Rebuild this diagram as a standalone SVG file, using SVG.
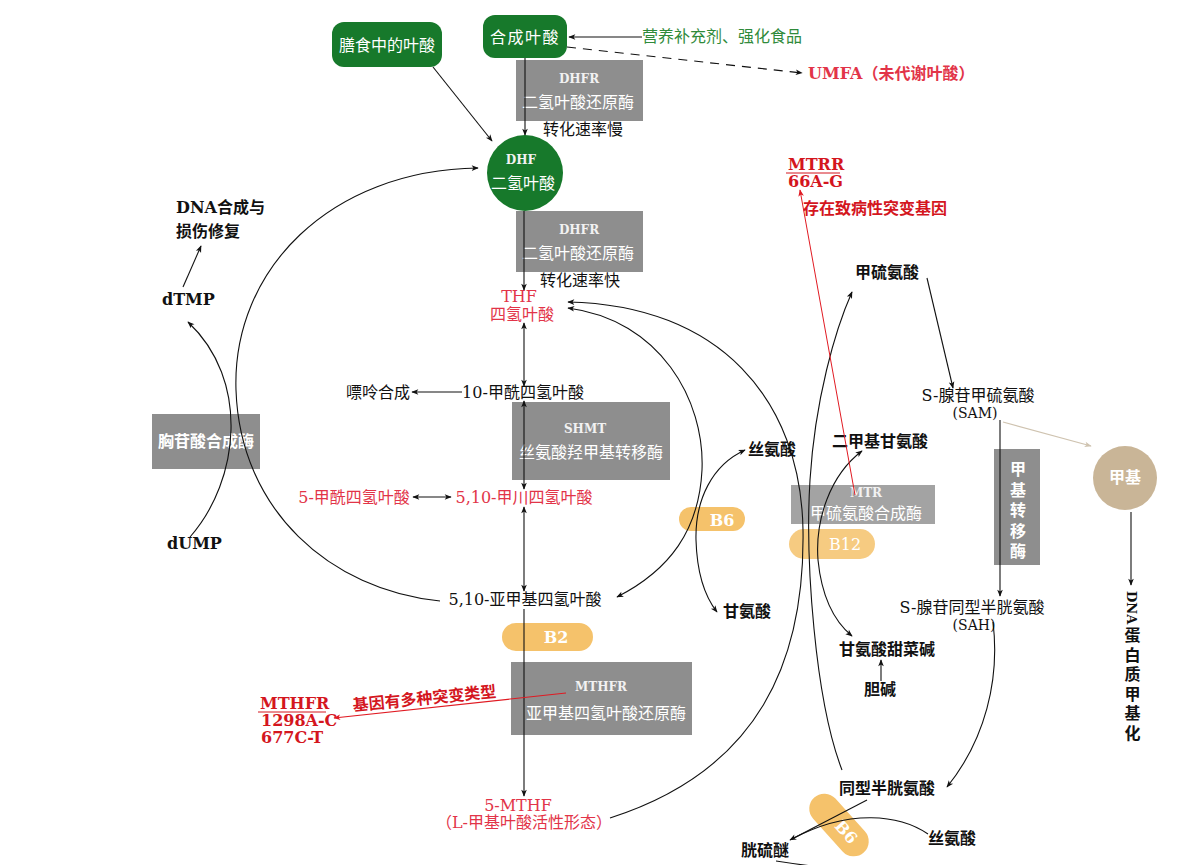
<svg xmlns="http://www.w3.org/2000/svg" width="1200" height="865" viewBox="0 0 1200 865">
<defs>
<marker id="a" viewBox="0 0 10 10" refX="9" refY="5" markerWidth="9" markerHeight="7" markerUnits="userSpaceOnUse" orient="auto-start-reverse"><path d="M0,1 L10,5 L0,9 L2.5,5 Z" fill="#111"/></marker>
<marker id="ar" viewBox="0 0 10 10" refX="9" refY="5" markerWidth="10" markerHeight="7" markerUnits="userSpaceOnUse" orient="auto"><path d="M0,1 L10,5 L0,9 L2.5,5 Z" fill="#e01a22"/></marker>
<marker id="at" viewBox="0 0 10 10" refX="9" refY="5" markerWidth="9" markerHeight="7" markerUnits="userSpaceOnUse" orient="auto"><path d="M0,1 L10,5 L0,9 L2.5,5 Z" fill="#cfc3b0"/></marker>
</defs>
<style>
.s{font-family:"DejaVu Serif","Noto Sans CJK SC",serif;font-size:16px;fill:#111}
.b{font-weight:bold}
.r{fill:#e23448}
.dr{fill:#d4161e;font-weight:bold}
.w{fill:#fff}
.ss{font-family:"Noto Sans CJK SC","Noto Sans",sans-serif;font-size:16px}
.en{font-family:"DejaVu Serif",serif;font-size:12px;font-weight:bold;fill:#f2f2f2}
.box{fill:#8e8e8e}
.grn{fill:#17792b}
.cap{fill:#f5c26b}
.c{fill:none;stroke:#111;stroke-width:1.1}
.m{text-anchor:middle}
.v{writing-mode:vertical-rl}
</style>
<rect width="1200" height="865" fill="#fff"/>

<g id="n-diet"><rect class="grn" x="332" y="22" width="110" height="45" rx="12"/><text class="ss w m" x="387" y="51">膳食中的叶酸</text></g>
<g id="n-synth"><rect class="grn" x="483" y="15" width="84" height="43" rx="12"/><text class="ss w m" x="525" y="43" letter-spacing="1.5">合成叶酸</text></g>
<g id="n-supp"><text class="ss" x="642" y="42" fill="#2f8a3a">营养补充剂、强化食品</text></g>
<g id="n-umfa"><text class="s r b" x="808" y="79" font-size="15">UMFA（未代谢叶酸）</text></g>
<g id="n-dhfr1"><rect class="box" x="516" y="60" width="127" height="61"/><text class="en m" x="579" y="83">DHFR</text><text class="ss w m" x="578" y="108" fill="#f0f0f0">二氢叶酸还原酶</text></g>
<g id="n-slow"><text class="ss m" x="583" y="135" fill="#111">转化速率慢</text></g>
<g id="n-dhf"><circle class="grn" cx="525" cy="173" r="38"/><text class="en m" x="521" y="164" fill="#fff">DHF</text><text class="ss w m" x="523" y="189">二氢叶酸</text></g>
<g id="n-dhfr2"><rect class="box" x="516" y="211" width="127" height="61"/><text class="en m" x="579" y="234">DHFR</text><text class="ss w m" x="578" y="259" fill="#f0f0f0">二氢叶酸还原酶</text></g>
<g id="n-fast"><text class="ss m" x="580" y="286" fill="#111">转化速率快</text></g>
<g id="n-thf"><text class="s r m" font-size="15"><tspan x="519" y="302">THF</tspan><tspan x="522" y="320" font-size="16">四氢叶酸</tspan></text></g>
<g id="n-10f"><text class="s m" x="523" y="398">10-甲酰四氢叶酸</text></g>
<g id="n-pur"><text class="s m" x="378" y="398">嘌呤合成</text></g>
<g id="n-shmt"><rect class="box" x="512" y="402" width="158" height="78"/><text class="en m" x="585" y="433">SHMT</text><text class="ss w m" x="591" y="458" fill="#f0f0f0">丝氨酸羟甲基转移酶</text></g>
<g id="n-5f"><text class="s r m" x="354" y="503">5-甲酰四氢叶酸</text></g>
<g id="n-510ch"><text class="s r m" x="524" y="503">5,10-甲川四氢叶酸</text></g>
<g id="n-510m"><text class="s m" x="525" y="605">5,10-亚甲基四氢叶酸</text></g>
<g id="n-b2"><rect class="cap" x="502" y="623" width="91" height="28" rx="14"/><text class="s w b m" x="556" y="643" font-size="16">B2</text></g>
<g id="n-mthfr"><rect class="box" x="511" y="662" width="181" height="73"/><text class="en m" x="601" y="691">MTHFR</text><text class="ss w m" x="606" y="719" fill="#f0f0f0">亚甲基四氢叶酸还原酶</text></g>
<g id="n-5mthf"><text class="s r m" font-size="15"><tspan x="518" y="811">5-MTHF</tspan><tspan x="524" y="828" font-size="16">（L-甲基叶酸活性形态）</tspan></text></g>
<g id="n-mthfrgene"><text class="s dr" font-size="13.5"><tspan x="260" y="709">MTHFR</tspan><tspan x="261" y="726">1298A-C</tspan><tspan x="261" y="743">677C-T</tspan></text><line x1="258" y1="712" x2="326" y2="712" stroke="#d4161e" stroke-width="1"/></g>
<g id="n-mthfrnote"><text class="s dr m" transform="translate(425,704) rotate(-5.6)" font-size="14">基因有多种突变类型</text></g>
<g id="n-ts"><rect class="box" x="152" y="414" width="108" height="55"/><text class="ss w m b" x="206" y="447">胸苷酸合成酶</text></g>
<g id="n-dtmp"><text class="s b" x="162" y="305" font-size="15">dTMP</text></g>
<g id="n-dna"><text class="s b" font-size="15"><tspan x="176" y="213">DNA合成与</tspan><tspan x="176" y="237">损伤修复</tspan></text></g>
<g id="n-dump"><text class="s b" x="167" y="549" font-size="15">dUMP</text></g>

<g id="n-mtrr"><text class="s dr" font-size="14.5"><tspan x="788" y="170">MTRR</tspan><tspan x="788" y="187">66A-G</tspan></text><line x1="786" y1="173" x2="840" y2="173" stroke="#d4161e" stroke-width="1"/></g>
<g id="n-mtrrnote"><text class="s dr" x="803" y="214">存在致病性突变基因</text></g>
<g id="n-met"><text class="s b" x="855" y="278">甲硫氨酸</text></g>
<g id="n-sam"><text class="s m" font-size="15"><tspan x="978" y="401">S-腺苷甲硫氨酸</tspan><tspan x="975" y="418" font-size="14">(SAM)</tspan></text></g>
<g id="n-mt"><rect class="box" x="994" y="449" width="46" height="116"/><text class="ss w b v" x="1018" y="461" font-size="14" letter-spacing="4.5">甲基转移酶</text></g>
<g id="n-methyl"><circle cx="1125" cy="478" r="32" fill="#c9b597"/><text class="ss w m b" x="1125" y="483" font-size="15">甲基</text></g>
<g id="n-dnam"><text class="s b v" x="1131" y="591" font-size="14"><tspan font-size="13">DNA</tspan><tspan letter-spacing="3.5" dy="3">蛋白质甲基化</tspan></text></g>
<g id="n-sah"><text class="s m" font-size="15"><tspan x="972" y="613">S-腺苷同型半胱氨酸</tspan><tspan x="974" y="630" font-size="14">(SAH)</tspan></text></g>
<g id="n-dmg"><text class="s b" x="832" y="447">二甲基甘氨酸</text></g>
<g id="n-mtr"><rect x="791" y="485" width="144" height="39" fill="#a3a3a3"/><text class="en m" x="866" y="497" font-size="10">MTR</text><text class="ss w m" x="866" y="519" font-size="14" fill="#f0f0f0">甲硫氨酸合成酶</text></g>
<g id="n-b12"><rect class="cap" x="789" y="529" width="86" height="30" rx="15" opacity="0.85"/><text class="s w m" x="845" y="550" font-size="13">B12</text></g>
<g id="n-ser1"><text class="s b" x="748" y="455">丝氨酸</text></g>
<g id="n-b6"><rect class="cap" x="679" y="507" width="66" height="24" rx="12"/><text class="s w b m" x="722" y="526" font-size="16">B6</text></g>
<g id="n-gly"><text class="s b" x="723" y="617">甘氨酸</text></g>
<g id="n-bet"><text class="s b" x="839" y="655">甘氨酸甜菜碱</text></g>
<g id="n-cho"><text class="s b" x="864" y="695">胆碱</text></g>
<g id="n-hcy"><text class="s b" x="839" y="794">同型半胱氨酸</text></g>
<g id="n-b6b"><g transform="translate(839,825) rotate(48)"><rect class="cap" x="-37" y="-15" width="74" height="30" rx="15"/><text class="s w b m" x="10" y="5" font-size="12">B6</text></g></g>
<g id="n-cyst"><text class="s b" x="741" y="856">胱硫醚</text></g>
<g id="n-ser2"><text class="s b" x="928" y="844">丝氨酸</text></g>

<g id="connectors">
<path class="c" d="M642,37 L569,37" marker-end="url(#a)"/>
<path class="c" d="M567,47 L802,73" stroke-dasharray="9,7" marker-end="url(#a)"/>
<path class="c" d="M525,58 L525,135" marker-end="url(#a)"/>
<path class="c" d="M433,67 L492,141" marker-end="url(#a)"/>
<path class="c" d="M524,211 L524,290" marker-end="url(#a)"/>
<path class="c" d="M524,323 L524,386" marker-start="url(#a)" marker-end="url(#a)"/>
<path class="c" d="M462,392 L412,392" marker-end="url(#a)"/>
<path class="c" d="M524,401 L524,489" marker-start="url(#a)" marker-end="url(#a)"/>
<path class="c" d="M413,497 L451,497" marker-start="url(#a)" marker-end="url(#a)"/>
<path class="c" d="M524,507 L524,591" marker-start="url(#a)" marker-end="url(#a)"/>
<path class="c" d="M524,609 L524,796" marker-end="url(#a)"/>
<path class="c" d="M440,601 C330,590 240,510 236,390 C232,270 330,170 478,168" marker-end="url(#a)"/>
<path class="c" d="M190,537 C240,480 250,380 188,322" marker-end="url(#a)"/>
<path class="c" d="M183,287 L201,246" marker-end="url(#a)"/>
<path class="c" d="M610,818 C760,770 805,660 803,530 C801,400 720,305 568,302" marker-end="url(#a)"/>
<path class="c" d="M568,308 C660,320 705,400 702,470 C699,530 670,570 617,597" marker-start="url(#a)" marker-end="url(#a)"/>
<path class="c" d="M745,450 C712,465 695,500 696,540 C697,575 706,598 717,612" marker-start="url(#a)" marker-end="url(#a)"/>
<path class="c" d="M842,770 C815,700 805,560 810,480 C815,400 835,330 852,292" marker-end="url(#a)"/>
<path class="c" d="M862,451 C830,475 815,520 818,560 C822,600 835,622 852,636" marker-start="url(#a)" marker-end="url(#a)"/>
<path class="c" d="M881,681 L881,660" marker-end="url(#a)"/>
<path class="c" d="M993,622 C1000,680 985,740 947,787" marker-end="url(#a)"/>
<path class="c" d="M867,800 L790,840" marker-end="url(#a)"/>
<path class="c" d="M928,834 C900,815 850,808 792,839"/>
<path class="c" d="M776,861 Q795,864 812,866"/>
<path class="c" d="M927,278 L953,388" marker-end="url(#a)"/>
<path class="c" d="M1000,420 L1000,596" marker-end="url(#a)"/>
<path d="M1003,422 L1091,446" fill="none" stroke="#cfc3b0" stroke-width="1.2" marker-end="url(#at)"/>
<path class="c" d="M1131,512 L1131,585" marker-end="url(#a)"/>
<path d="M855,495 L800,190" fill="none" stroke="#e01a22" stroke-width="1" marker-end="url(#ar)"/>
<path d="M566,693 L334,718" fill="none" stroke="#e01a22" stroke-width="1.2" marker-end="url(#ar)"/>
</g>
</svg>
